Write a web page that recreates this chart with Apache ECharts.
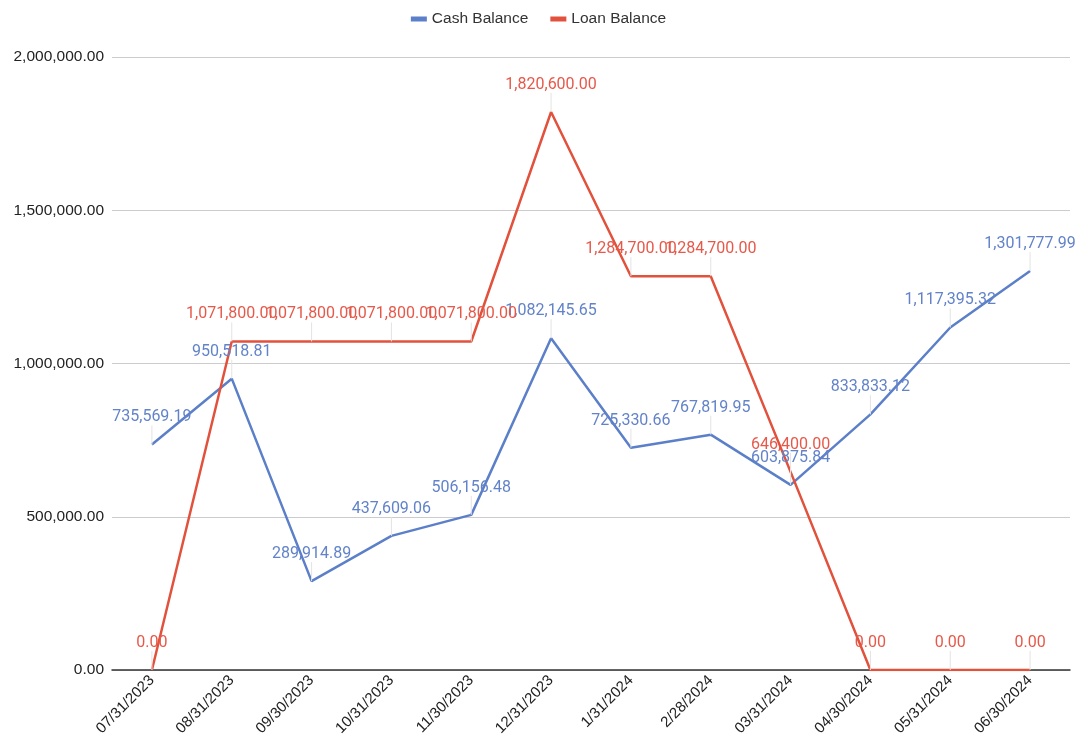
<!DOCTYPE html>
<html>
<head>
<meta charset="utf-8">
<script src="https://cdn.jsdelivr.net/npm/echarts@6/dist/echarts.min.js"></script>
<style>
	html, body { margin: 0; padding: 0; background: #fff; }
	#chart { width: 1077px; height: 745px; }
</style>
</head>
<body>
<div id="chart"></div>
<script>
	// 月末日期
	var dates = ['07/31/2023', '08/31/2023', '09/30/2023', '10/31/2023', '11/30/2023', '12/31/2023',
		'1/31/2024', '2/28/2024', '03/31/2024', '04/30/2024', '05/31/2024', '06/30/2024'];
	var cashBalance = [735569.19, 950518.81, 289914.89, 437609.06, 506156.48, 1082145.65,
		725330.66, 767819.95, 603875.84, 833833.12, 1117395.32, 1301777.99];
	var loanBalance = [0, 1071800, 1071800, 1071800, 1071800, 1820600,
		1284700, 1284700, 646400, 0, 0, 0];

	var fmt = function(v) {
		return Number(v).toLocaleString('en-US', {minimumFractionDigits: 2, maximumFractionDigits: 2});
	};

	var blue = '#5b7fc8';
	var red = '#e2513c';
	var axisFont = '"Liberation Sans", Arial, sans-serif';

	function makeSeries(name, data, color, labelColor) {
		return {
			name: name,
			type: 'line',
			data: data,
			color: color,
			symbol: 'circle',
			symbolSize: 0.1,
			showSymbol: true,
			lineStyle: { width: 2.5, color: color },
			label: {
				show: true,
				position: 'top',
				distance: 4,
				color: labelColor,
				fontFamily: 'Roboto',
				fontSize: 16,
				formatter: function(p) { return fmt(p.value); }
			},
			labelLayout: { dy: -15, hideOverlap: false },
			labelLine: { show: true, lineStyle: { color: '#e3e3e3', width: 1 } },
			emphasis: { disabled: true }
		};
	}

	var option = {
		animation: false,
		backgroundColor: '#ffffff',
		textStyle: { fontFamily: axisFont },
		legend: {
			top: 6,
			left: 'center',
			icon: 'rect',
			itemWidth: 16,
			itemHeight: 5,
			itemGap: 22,
			textStyle: { fontSize: 15.5, color: '#333', fontFamily: axisFont },
			data: ['Cash Balance', 'Loan Balance']
		},
		grid: {
			left: 112,
			right: 7,
			top: 57,
			bottom: 75
		},
		xAxis: {
			type: 'category',
			data: dates,
			boundaryGap: true,
			axisLine: { lineStyle: { color: '#333', width: 1.5 } },
			axisTick: { show: false },
			axisLabel: {
				rotate: 45,
				interval: 0,
				margin: 8,
				color: '#222',
				fontFamily: axisFont,
				fontSize: 15
			}
		},
		yAxis: {
			type: 'value',
			min: 0,
			max: 2000000,
			interval: 500000,
			axisLine: { show: false },
			axisTick: { show: false },
			splitLine: { lineStyle: { color: '#cccccc', width: 1 } },
			axisLabel: {
				color: '#222',
				fontFamily: axisFont,
				fontSize: 15.5,
				margin: 8,
				formatter: fmt
			}
		},
		series: [
			makeSeries('Cash Balance', cashBalance, blue, '#6283c9'),
			makeSeries('Loan Balance', loanBalance, red, '#e6594a')
		]
	};

	var chart = echarts.init(document.getElementById('chart'));
	chart.setOption(option);
</script>
</body>
</html>
